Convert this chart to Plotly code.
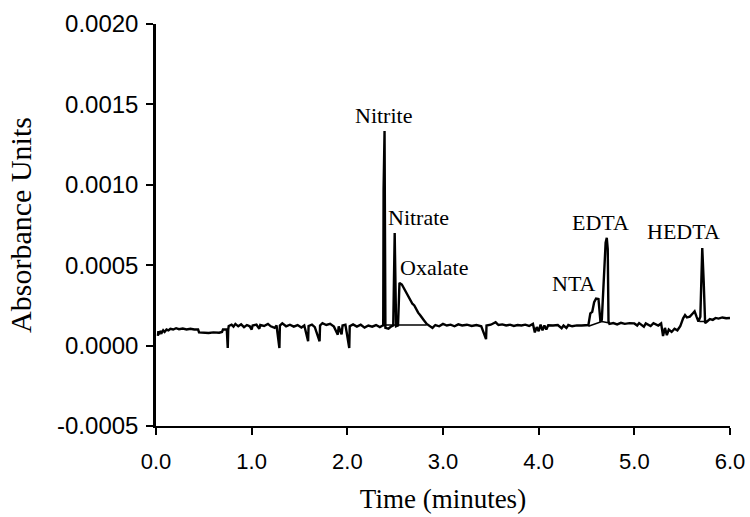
import plotly.graph_objects as go

# Chromatogram trace (time in minutes, absorbance in AU)
time_min = [
    0.02, 0.025, 0.035, 0.045, 0.06, 0.075, 0.09, 0.11, 0.13, 0.15, 0.18, 0.21, 0.24, 0.28, 0.32,
    0.36, 0.40, 0.44, 0.45, 0.50, 0.55, 0.60, 0.66, 0.69, 0.70, 0.74, 0.75, 0.755, 0.76,
    0.79, 0.81, 0.83, 0.86, 0.89, 0.92, 0.95, 0.98, 1.00, 1.01, 1.05, 1.08, 1.09, 1.13, 1.17,
    1.20, 1.24, 1.26, 1.29, 1.295, 1.32, 1.36, 1.40, 1.44, 1.48, 1.52, 1.55, 1.59, 1.595, 1.63,
    1.66, 1.71, 1.715, 1.74, 1.78, 1.82, 1.86, 1.90, 1.91, 1.94, 1.95, 1.98, 2.02, 2.025, 2.06,
    2.10, 2.14, 2.18, 2.22, 2.26, 2.30, 2.34, 2.37,
    2.375, 2.379, 2.389, 2.398, 2.43, 2.46, 2.48, 2.495, 2.51, 2.53,
    2.545, 2.57, 2.60, 2.62, 2.64, 2.66, 2.68, 2.70, 2.72, 2.74, 2.76, 2.78, 2.80, 2.83,
    2.86, 2.89, 2.92, 2.96, 3.00, 3.04, 3.08, 3.12, 3.16, 3.20, 3.25, 3.30, 3.35, 3.40, 3.45,
    3.455, 3.50, 3.55, 3.58, 3.62, 3.66, 3.70, 3.74, 3.78, 3.82, 3.86, 3.90, 3.94, 3.96, 3.98,
    4.00, 4.02, 4.04, 4.06, 4.08, 4.10, 4.15, 4.20, 4.24, 4.26, 4.29, 4.31, 4.35, 4.40, 4.45, 4.50,
    4.52, 4.54, 4.56, 4.58, 4.60, 4.625, 4.635, 4.645,
    4.66, 4.68, 4.70, 4.712, 4.722, 4.73, 4.74, 4.78, 4.82, 4.86, 4.90, 4.95, 5.00, 5.03, 5.05,
    5.10, 5.12, 5.17, 5.20, 5.25, 5.28, 5.30, 5.32, 5.34, 5.36, 5.39, 5.42, 5.45, 5.48, 5.51,
    5.53, 5.55, 5.58, 5.61, 5.63, 5.65, 5.67, 5.69,
    5.71, 5.725, 5.74, 5.76, 5.79, 5.82, 5.85, 5.88, 5.92, 5.96, 6.00,
]
absorbance = [
    0.000060, 0.000090, 0.000070, 0.000090, 0.000080, 0.000095, 0.000085, 0.000100, 0.000095,
    0.000105, 0.000100, 0.000108, 0.000102, 0.000106, 0.000100, 0.000105, 0.000100, 0.000100,
    0.000082, 0.000080, 0.000078, 0.000082, 0.000080, 0.000085, 0.000100, 0.000100, -0.000015,
    0.000100, 0.000122,
    0.000130, 0.000118, 0.000135, 0.000120, 0.000132, 0.000115, 0.000128, 0.000120, 0.000100,
    0.000125, 0.000130, 0.000105, 0.000128, 0.000122, 0.000135, 0.000120, 0.000110, 0.000125,
    -0.000015, 0.000125, 0.000138, 0.000120, 0.000130, 0.000118, 0.000128, 0.000112, 0.000125,
    0.000027, 0.000122, 0.000130, 0.000115, 0.000027, 0.000125, 0.000140, 0.000128, 0.000135,
    0.000118, 0.000068, 0.000120, 0.000070, 0.000125, 0.000130, -0.000015, 0.000120, 0.000132,
    0.000118, 0.000130, 0.000112, 0.000125, 0.000118, 0.000128, 0.000115, 0.000125,
    0.000120, 0.000970, 0.001335, 0.000110, 0.000105, 0.000120, 0.000125, 0.000700, 0.000120,
    0.000125,
    0.000390, 0.000380, 0.000345, 0.000330, 0.000300, 0.000285, 0.000260, 0.000250, 0.000225,
    0.000205, 0.000190, 0.000170, 0.000158, 0.000135,
    0.000125, 0.000110, 0.000128, 0.000120, 0.000135, 0.000125, 0.000130, 0.000120, 0.000132,
    0.000125, 0.000130, 0.000122, 0.000128, 0.000120, 0.000040,
    0.000125, 0.000130, 0.000145, 0.000128, 0.000132, 0.000125, 0.000130, 0.000122, 0.000128,
    0.000125, 0.000130, 0.000122, 0.000135, 0.000082, 0.000115,
    0.000090, 0.000130, 0.000095, 0.000125, 0.000100, 0.000126, 0.000125, 0.000128, 0.000108,
    0.000125, 0.000110, 0.000128, 0.000120, 0.000126, 0.000125, 0.000128,
    0.000128, 0.000200, 0.000210, 0.000270, 0.000292, 0.000290, 0.000200, 0.000155,
    0.000160, 0.000450, 0.000640, 0.000670, 0.000600, 0.000150, 0.000135, 0.000140, 0.000132,
    0.000142, 0.000135, 0.000140, 0.000138, 0.000125, 0.000140,
    0.000118, 0.000138, 0.000122, 0.000140, 0.000125, 0.000138, 0.000060, 0.000110, 0.000065,
    0.000100, 0.000085, 0.000105, 0.000095, 0.000120, 0.000170,
    0.000190, 0.000175, 0.000180, 0.000200, 0.000213, 0.000180, 0.000150, 0.000180,
    0.000607, 0.000400, 0.000140, 0.000150, 0.000165, 0.000160, 0.000172, 0.000168, 0.000175,
    0.000170, 0.000172,
]

# Integration baselines drawn under the peaks
base_time = [2.40, 2.83, None, 4.52, 4.66, 4.74, None, 5.68, 5.76]
base_abs = [0.000128, 0.000128, None, 0.000120, 0.000150, 0.000140, None, 0.000150, 0.000150]

# Peak labels
peak_names = ["Nitrite", "Nitrate", "Oxalate", "NTA", "EDTA", "HEDTA"]
label_time = [2.376, 2.742, 2.91, 4.37, 4.642, 5.516]
label_abs = [0.001429, 0.000795, 0.000484, 0.000385, 0.000767, 0.000710]

# Axis ticks
x_ticks = [0, 1, 2, 3, 4, 5, 6]
x_tick_text = ["0.0", "1.0", "2.0", "3.0", "4.0", "5.0", "6.0"]
y_ticks = [-0.0005, 0.0, 0.0005, 0.0010, 0.0015, 0.0020]
y_tick_text = ["-0.0005", "0.0000", "0.0005", "0.0010", "0.0015", "0.0020"]

SERIF = "Liberation Serif, Times New Roman, serif"
SANS = "Liberation Sans, Arial, sans-serif"

fig = go.Figure()
fig.add_trace(go.Scatter(x=base_time, y=base_abs, mode="lines",
                         line=dict(color="black", width=1.5), connectgaps=False,
                         hoverinfo="skip", showlegend=False))
fig.add_trace(go.Scatter(x=time_min, y=absorbance, mode="lines",
                         line=dict(color="black", width=2.4), showlegend=False))

for name, tx, ty in zip(peak_names, label_time, label_abs):
    fig.add_annotation(x=tx, y=ty, text=name, showarrow=False,
                       xanchor="center", yanchor="middle",
                       font=dict(family=SERIF, size=22, color="black"))

fig.update_layout(
    width=750, height=517,
    margin=dict(l=156, r=20, t=24, b=91, autoexpand=False),
    paper_bgcolor="white", plot_bgcolor="white",
    showlegend=False,
)
fig.update_xaxes(
    range=[0, 6], tickvals=x_ticks, ticktext=x_tick_text,
    ticks="outside", ticklen=7, tickwidth=1.5, tickcolor="black",
    showline=True, linewidth=1.5, linecolor="black",
    showgrid=False, zeroline=False, automargin=False,
    tickfont=dict(family=SANS, size=22, color="black"),
    ticklabelstandoff=8,
    title=dict(text="Time (minutes)", font=dict(family=SERIF, size=27, color="black"), standoff=16),
)
fig.update_yaxes(
    range=[-0.0005, 0.0020], tickvals=y_ticks, ticktext=y_tick_text,
    ticks="outside", ticklen=7, tickwidth=1.5, tickcolor="black",
    showline=True, linewidth=2.5, linecolor="black",
    showgrid=False, zeroline=False, automargin=False,
    tickfont=dict(family=SANS, size=24, color="black"),
    ticklabelstandoff=3,
    title=dict(text="Absorbance Units", font=dict(family=SERIF, size=30, color="black"), standoff=17),
)

# Remove the browser's default page margin so the 750x517 figure fills the window
fig.write_html("out.html",
               config={"displayModeBar": False},
               post_script="document.body.style.margin='0';document.body.style.overflow='hidden';")
